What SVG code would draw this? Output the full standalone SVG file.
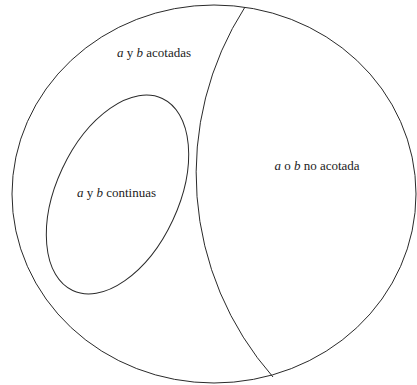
<svg xmlns="http://www.w3.org/2000/svg" width="417" height="385" viewBox="0 0 417 385">
<style>
.s{fill:none;stroke:#2a2a2a;stroke-width:1}
.t{font-family:"Liberation Serif","Times New Roman",serif;font-size:13px;fill:#222;text-anchor:middle}
.i{font-style:italic}
</style>
<rect width="417" height="385" fill="#fff"/>
<g id="outer"><ellipse class="s" cx="214" cy="194" rx="202" ry="189"/></g>
<g id="divider"><path class="s" d="M245,7 A308,308 0 0 0 273,377"/></g>
<g id="inner"><ellipse class="s" cx="117.5" cy="194.5" rx="61" ry="106" transform="rotate(25 117.5 194.5)"/></g>
<g id="labels">
<text class="t" x="154" y="57"><tspan class="i">a</tspan> y <tspan class="i">b</tspan> acotadas</text>
<text class="t" x="116.5" y="197"><tspan class="i">a</tspan> y <tspan class="i">b</tspan> continuas</text>
<text class="t" x="317" y="170"><tspan class="i">a</tspan> o <tspan class="i">b</tspan> no acotada</text>
</g>
</svg>
